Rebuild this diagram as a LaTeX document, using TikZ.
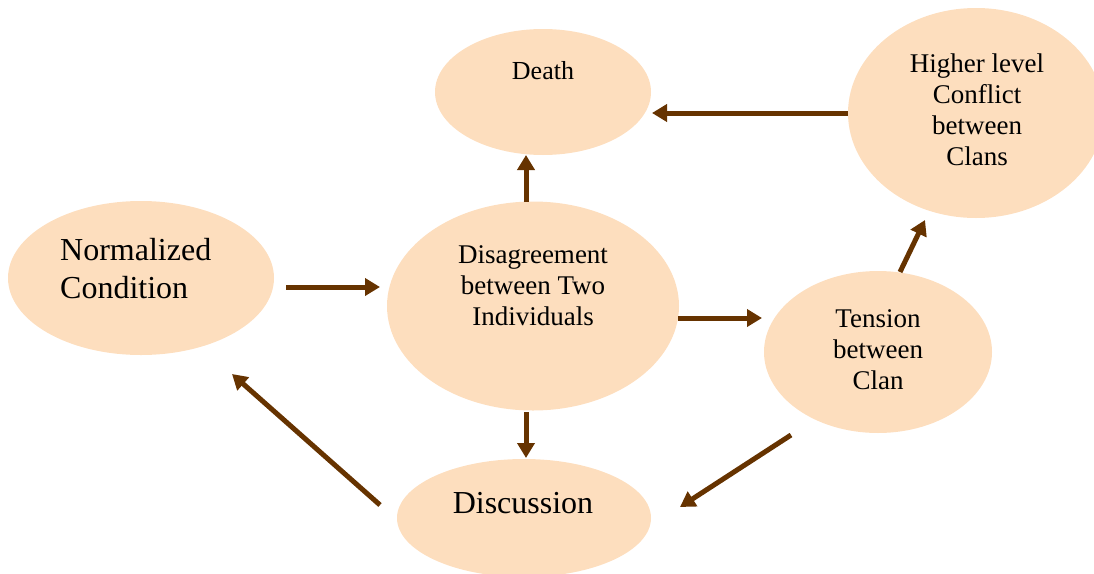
\documentclass[tikz,border=0pt]{standalone}
\usepackage{fontspec}
\setmainfont{Liberation Serif}
\usetikzlibrary{shapes.geometric,arrows.meta}
\definecolor{peach}{HTML}{FDDEBE}
\definecolor{arrowbrown}{HTML}{663300}
\tikzset{
  blob/.style={ellipse, fill=peach, draw=none, inner sep=0pt},
  lbl/.style={inner sep=0pt, align=center, anchor=north,
              font=\fontsize{27}{31}\selectfont},
  biglbl/.style={inner sep=0pt, font=\fontsize{32}{38}\selectfont},
  flow/.style={draw=arrowbrown, line width=5pt,
               -{Triangle[length=15pt,width=17pt]}}
}
\begin{document}
\begin{tikzpicture}[x=1pt,y=-1pt]
  \useasboundingbox (0,0) rectangle (1094,573);
  \clip (0,0) rectangle (1094,573);

  % ellipses
  \node[blob, minimum width=216pt, minimum height=126pt] (death) at (543,92) {};
  \node[blob, minimum width=256pt, minimum height=210pt] (higher) at (976,113) {};
  \node[blob, minimum width=266pt, minimum height=154pt] (normal) at (141,278) {};
  \node[blob, minimum width=292pt, minimum height=209pt] (disagree) at (533,306) {};
  \node[blob, minimum width=228pt, minimum height=162pt] (tension) at (878,352) {};
  \node[blob, minimum width=254pt, minimum height=118pt] (discuss) at (524,518) {};

  % labels
  \node[lbl, anchor=base, font=\fontsize{26}{31}\selectfont] (death-t) at (543,79) {Death};
  \node[lbl] (higher-t) at (977,54) {Higher level\\Conflict\\between\\Clans};
  \node[biglbl, anchor=north west, align=left] (normal-t) at (60,238)
       {Normalized\\Condition};
  \node[lbl] (disagree-t) at (533,245) {Disagreement\\between Two\\Individuals};
  \node[lbl] (tension-t) at (878,309) {Tension\\between\\Clan};
  \node[inner sep=0pt, anchor=base, font=\fontsize{32}{38}\selectfont]
       (discuss-t) at (523,513) {Discussion};

  % connector end points
  \coordinate (normal-out)    at (286,287);
  \coordinate (disagree-in)   at (380,287);
  \coordinate (disagree-up)   at (526,202);
  \coordinate (death-in)      at (526,155);
  \coordinate (higher-out)    at (848,113);
  \coordinate (death-side)    at (652,113);
  \coordinate (disagree-out)  at (678,318);
  \coordinate (tension-in)    at (762,318);
  \coordinate (tension-up)    at (900,272);
  \coordinate (higher-in)     at (925,220);
  \coordinate (disagree-down) at (526,412);
  \coordinate (discuss-top)   at (526,458);
  \coordinate (tension-down)  at (791,435);
  \coordinate (discuss-right) at (680,507);
  \coordinate (discuss-left)  at (380,505);
  \coordinate (normal-in)     at (232,374);

  % connectors
  \draw[flow] (normal-out) -- (disagree-in);
  \draw[flow] (disagree-up) -- (death-in);
  \draw[flow] (higher-out) -- (death-side);
  \draw[flow] (disagree-out) -- (tension-in);
  \draw[flow] (tension-up) -- (higher-in);
  \draw[flow] (disagree-down) -- (discuss-top);
  \draw[flow] (tension-down) -- (discuss-right);
  \draw[flow] (discuss-left) -- (normal-in);
\end{tikzpicture}
\end{document}
